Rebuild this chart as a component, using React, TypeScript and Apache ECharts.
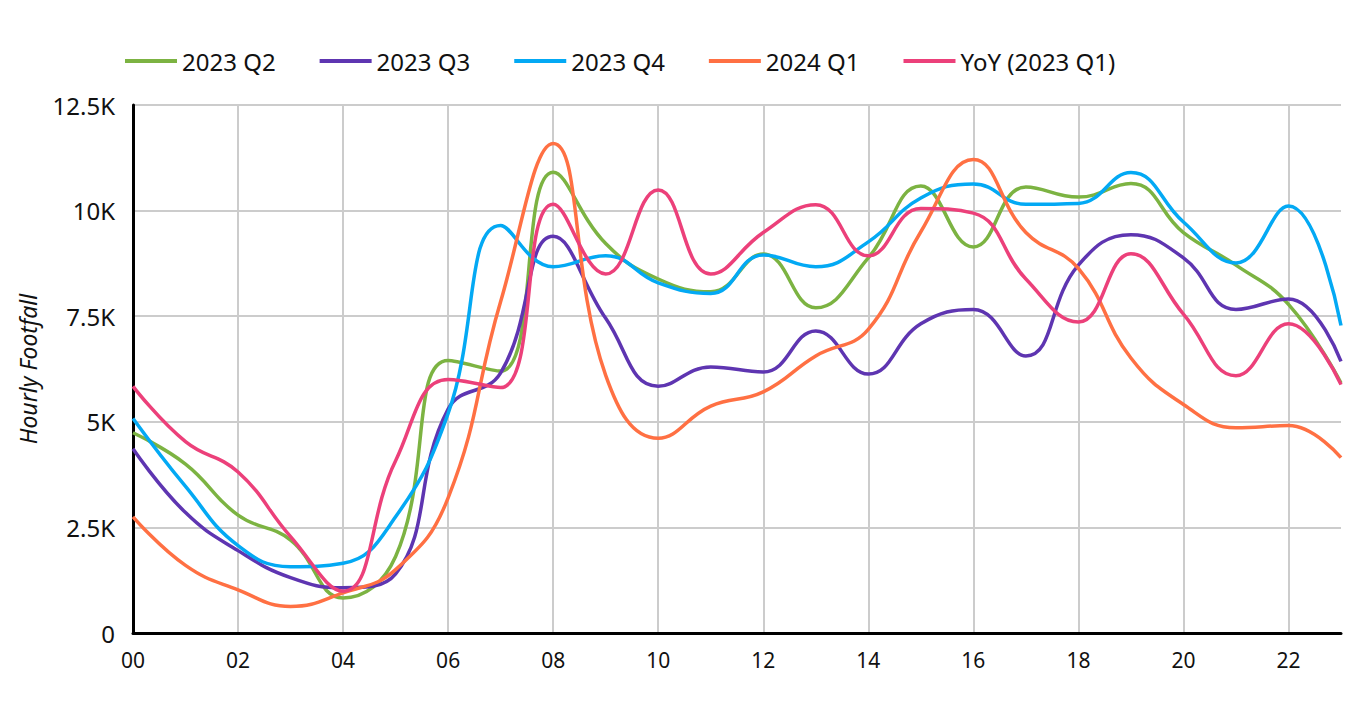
import React, { useEffect, useRef } from "react";
import * as echarts from "echarts";

const hours = ["00","01","02","03","04","05","06","07","08","09","10","11","12","13","14","15","16","17","18","19","20","21","22","23"];

const q2_2023 = [4740, 4000, 2790, 2200, 830, 1810, 6450, 6200, 10910, 9220, 8380, 8080, 8970, 7700, 8880, 10580, 9140, 10560, 10320, 10640, 9480, 8710, 7780, 5920];
const q3_2023 = [4360, 2850, 1950, 1310, 1070, 1400, 5300, 6160, 9390, 7450, 5840, 6300, 6180, 7150, 6130, 7320, 7660, 6560, 8710, 9430, 8880, 7660, 7910, 6430];
const q4_2023 = [5080, 3470, 2070, 1570, 1650, 2750, 5200, 9650, 8670, 8930, 8290, 8040, 8950, 8670, 9260, 10300, 10630, 10150, 10170, 10900, 9730, 8760, 10110, 7280];
const q1_2024 = [2750, 1600, 1020, 630, 950, 1500, 3200, 7850, 11590, 6100, 4610, 5370, 5710, 6560, 7190, 9500, 11210, 9480, 8630, 6510, 5410, 4860, 4910, 4150];
const yoy_q1_2023 = [5840, 4530, 3810, 2280, 990, 4080, 6000, 5810, 10150, 8500, 10490, 8500, 9480, 10140, 8930, 10050, 9940, 8380, 7360, 8980, 7550, 6090, 7320, 5880];

const seriesNames = ["2023 Q2", "2023 Q3", "2023 Q4", "2024 Q1", "YoY (2023 Q1)"];
const colors = ["#7CB342", "#5E35B1", "#03A9F4", "#FF7043", "#EC407A"];
const seriesData = [q2_2023, q3_2023, q4_2023, q1_2024, yoy_q1_2023];

const FONT = "'Noto Sans', 'Open Sans', sans-serif";

export default function App() {
  const ref = useRef<HTMLDivElement>(null);
  useEffect(() => {
    if (!ref.current) return;
    const chart = echarts.init(ref.current, null, { renderer: "svg" });
    chart.setOption({
      animation: false,
      backgroundColor: "#ffffff",
      textStyle: { fontFamily: FONT },
      legend: {
        top: 41,
        left: 117,
        padding: 0,
        itemWidth: 52,
        itemHeight: 4,
        itemGap: 44,
        itemTextGap: 11,
        icon: "rect",
        textStyle: { fontSize: 24, color: "#111", fontFamily: FONT },
        data: seriesNames,
      },
      grid: { left: 118, right: 20, top: 97, bottom: 81, containLabel: false },
      xAxis: {
        type: "category",
        data: hours,
        boundaryGap: false,
        axisLine: { lineStyle: { color: "#000", width: 3 } },
        axisTick: { show: false },
        axisLabel: { interval: 1, fontSize: 21, color: "#111", margin: 16, fontFamily: FONT },
        splitLine: { show: true, interval: 1, lineStyle: { color: "#cccccc", width: 2 } },
      },
      yAxis: {
        type: "value",
        min: 0,
        max: 12500,
        interval: 2500,
        name: "Hourly Footfall",
        nameLocation: "middle",
        nameGap: 94,
        nameTextStyle: { fontSize: 23, fontStyle: "italic", color: "#111", fontFamily: FONT },
        axisLine: { show: true, lineStyle: { color: "#000", width: 3 } },
        axisTick: { show: false },
        axisLabel: {
          fontSize: 24,
          color: "#111",
          margin: 18,
          fontFamily: FONT,
          formatter: (v: number) => (v === 0 ? "0" : `${v / 1000}K`),
        },
        splitLine: { show: true, lineStyle: { color: "#cccccc", width: 2 } },
      },
      series: seriesNames.map((name, i) => ({
        name,
        type: "line",
        data: seriesData[i],
        smooth: 0.45,
        symbol: "none",
        lineStyle: { color: colors[i], width: 3.5 },
        itemStyle: { color: colors[i] },
      })),
    });
    return () => chart.dispose();
  }, []);
  return <div ref={ref} style={{ width: 1353, height: 706 }} />;
}
